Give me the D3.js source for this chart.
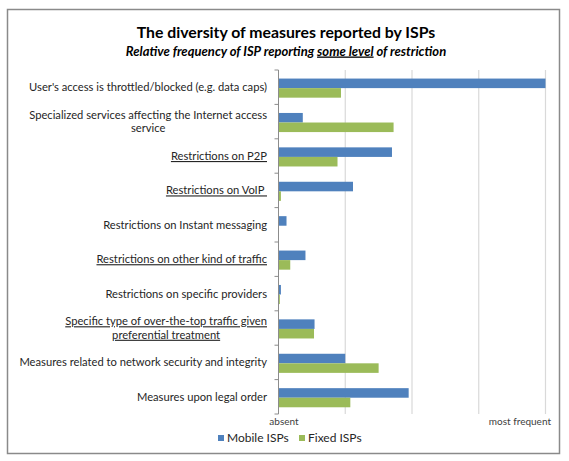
<!DOCTYPE html>
<html>
<head>
<meta charset="utf-8">
<script src="https://cdn.jsdelivr.net/npm/d3@7"></script>
<style>
	body { margin: 0; background: #fff; }
	svg { font-family: Lato, "Open Sans", sans-serif; }
	.cat { white-space: pre; }
</style>
</head>
<body>
<svg id="chart" width="569" height="461"></svg>
<script>
// categories, top to bottom ("\n" = line break in the label)
var categories = [
	"User's access is throttled/blocked (e.g. data caps)",
	"Specialized services affecting the Internet access\nservice",
	"Restrictions on P2P",
	"Restrictions on VoIP ",
	"Restrictions on Instant messaging",
	"Restrictions on other kind of traffic",
	"Restrictions on specific providers",
	"Specific type of over-the-top traffic given\npreferential treatment",
	"Measures related to network security and integrity",
	"Measures upon legal order"
]
// labels that are underlined in the original
var underlined = [
	"Restrictions on P2P",
	"Restrictions on VoIP ",
	"Restrictions on other kind of traffic",
	"Specific type of over-the-top traffic given\npreferential treatment"
]
var seriesNames = ['Mobile ISPs', 'Fixed ISPs']
var mobile = [1.0, 0.091, 0.425, 0.279, 0.03, 0.101, 0.009, 0.135, 0.25, 0.4875]
var fixed = [0.234, 0.431, 0.221, 0.009, 0, 0.044, 0.005, 0.133, 0.375, 0.269]
var tickValues = [0, 0.25, 0.5, 0.75, 1]
var tickLabels = ['absent', '', '', '', 'most frequent']

var colors = ['#4F81BD', '#9BBB59']

var svg = d3.select('#chart')

// outer frame
svg.append('rect')
	.attr('x', 7.5)
	.attr('y', 9.5)
	.attr('width', 552)
	.attr('height', 444)
	.attr('fill', '#fff')
	.attr('stroke', '#8a8a8a')
	.attr('stroke-width', 1.5)

// titles
svg.append('text')
	.attr('x', 286)
	.attr('y', 37.5)
	.attr('text-anchor', 'middle')
	.attr('font-size', 15.8)
	.attr('font-weight', 'bold')
	.attr('fill', '#000')
	.text('The diversity of measures reported by ISPs')

var sub = svg.append('text')
	.attr('x', 286)
	.attr('y', 55.5)
	.attr('text-anchor', 'middle')
	.attr('font-size', 13)
	.attr('font-weight', 'bold')
	.attr('font-style', 'italic')
	.attr('fill', '#000')
	.style('white-space', 'pre')
sub.append('tspan').text('Relative frequency of ISP reporting ')
sub.append('tspan').attr('text-decoration', 'underline').text('some level')
sub.append('tspan').text(' of restriction')

var pLeft = 278.5, pRight = 545.5, pTop = 70, pBottom = 414

var x = d3.scaleLinear().domain([0, 1]).range([pLeft, pRight])

var y = d3.scaleBand()
	.domain(d3.range(categories.length))
	.range([pTop, pBottom])

var y1 = d3.scaleBand()
	.domain([0, 1])
	.range([0, y.bandwidth()])
	.paddingOuter(0.8)
	.align(0.56)

// gridlines
svg.append('g')
	.selectAll('line')
	.data(tickValues.slice(1))
	.join('line')
	.attr('x1', d => x(d))
	.attr('x2', d => x(d))
	.attr('y1', pTop)
	.attr('y2', pBottom)
	.attr('stroke', '#d9d9d9')
	.attr('stroke-width', 1.2)

// bars
var series = [mobile, fixed]
series.forEach(function (vals, s) {
	svg.append('g')
		.selectAll('rect')
		.data(vals)
		.join('rect')
		.attr('x', pLeft)
		.attr('y', (d, i) => y(i) + y1(s))
		.attr('width', d => x(d) - pLeft)
		.attr('height', y1.bandwidth())
		.attr('fill', colors[s])
})

// vertical axis line + category ticks
svg.append('line')
	.attr('x1', pLeft)
	.attr('x2', pLeft)
	.attr('y1', pTop)
	.attr('y2', pBottom)
	.attr('stroke', '#8c8c8c')
	.attr('stroke-width', 1)

svg.append('g')
	.selectAll('line')
	.data(d3.range(categories.length + 1))
	.join('line')
	.attr('x1', pLeft - 4)
	.attr('x2', pLeft)
	.attr('y1', d => pTop + d * y.step())
	.attr('y2', d => pTop + d * y.step())
	.attr('stroke', '#8c8c8c')

// x axis labels
var xAxis = d3.axisBottom(x)
	.tickValues(tickValues)
	.tickSize(0)
	.tickFormat((d, i) => tickLabels[i])

var gx = svg.append('g')
	.attr('transform', 'translate(0,' + (pBottom + 1) + ')')
	.call(xAxis)
gx.select('.domain').remove()
gx.selectAll('text')
	.attr('font-family', 'Lato, sans-serif')
	.attr('font-size', 10)
	.attr('fill', '#404040')
gx.selectAll('.tick').filter((d, i) => i == 0).select('text').attr('dx', 5)
gx.selectAll('.tick').filter((d, i) => i == tickValues.length - 1).select('text')
	.attr('text-anchor', 'end')
	.attr('dx', 5)

// category labels (block right-aligned, lines centered inside block)
var labelRight = 267
var lineH = 13.5
categories.forEach(function (c, i) {
	var lines = c.split('\n')
	var g = svg.append('g')
	var cy = y(i) + y.bandwidth() / 2
	var t = g.selectAll('text')
		.data(lines)
		.join('text')
		.attr('class', 'cat')
		.attr('font-size', 11.2)
		.attr('fill', '#262626')
		.attr('y', (d, k) => cy + 4 + (k - (lines.length - 1) / 2) * lineH)
		.attr('text-decoration', underlined.indexOf(c) >= 0 ? 'underline' : null)
		.text(d => d)
	var w = 0
	t.each(function () { w = Math.max(w, this.getComputedTextLength()) })
	t.attr('text-anchor', 'middle').attr('x', labelRight - w / 2)
})

// legend
var leg = svg.append('g')
var legX = [218, 299]
seriesNames.forEach(function (n, s) {
	leg.append('rect')
		.attr('x', legX[s])
		.attr('y', 435)
		.attr('width', 6)
		.attr('height', 6)
		.attr('fill', colors[s])
	leg.append('text')
		.attr('x', legX[s] + 9)
		.attr('y', 442)
		.attr('font-size', 12)
		.attr('fill', '#262626')
		.text(n)
})
</script>
</body>
</html>
